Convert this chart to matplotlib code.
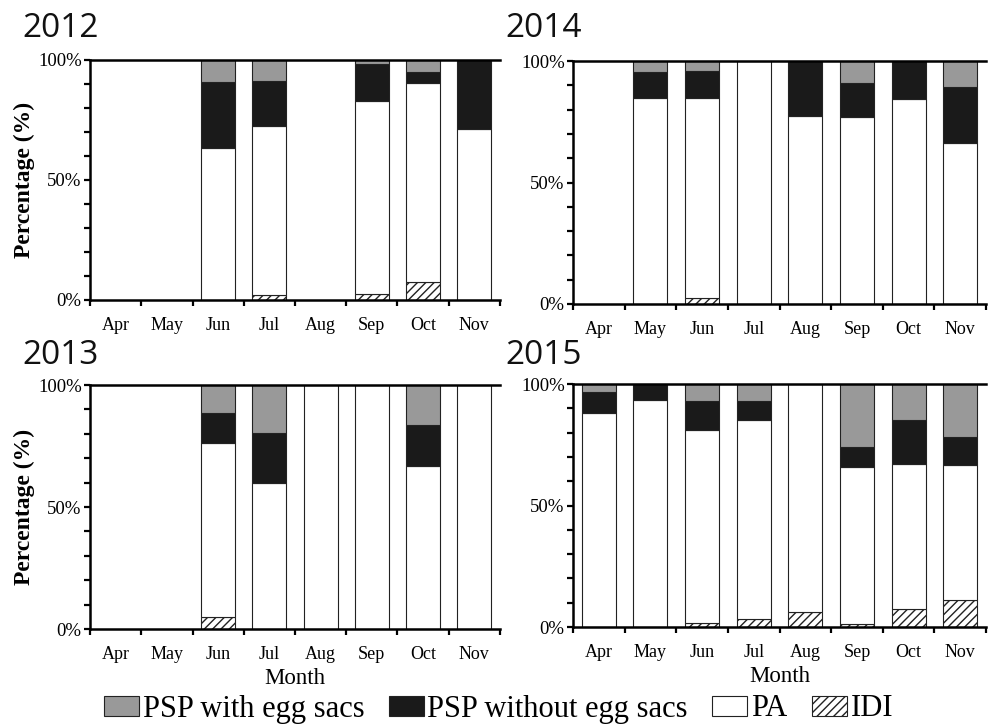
import numpy as np
import matplotlib
matplotlib.use('Agg')
import matplotlib.pyplot as plt
from matplotlib.patches import Patch

plt.rcParams['font.family'] = 'Liberation Serif'
plt.rcParams['hatch.linewidth'] = 1.0

months = ['Apr', 'May', 'Jun', 'Jul', 'Aug', 'Sep', 'Oct', 'Nov']

# percentages per month
idi_2012 = [0, 0, 0, 2.1, 0, 2.4, 7.6, 0]
pa_2012 = [0, 0, 63.2, 70.4, 0, 80.7, 82.9, 71.4]
no_egg_2012 = [0, 0, 27.5, 18.9, 0, 15.4, 4.3, 28.6]
egg_2012 = [0, 0, 9.3, 8.6, 0, 1.5, 5.2, 0]

idi_2013 = [0, 0, 4.8, 0, 0, 0, 0, 0]
pa_2013 = [0, 0, 71.4, 59.9, 100, 100, 66.7, 100]
no_egg_2013 = [0, 0, 12.4, 20.6, 0, 0, 17.1, 0]
egg_2013 = [0, 0, 11.4, 19.5, 0, 0, 16.2, 0]

idi_2014 = [0, 0, 2.6, 0, 0, 0, 0, 0]
pa_2014 = [0, 84.8, 82.2, 100, 77.5, 77.1, 84.4, 66.4]
no_egg_2014 = [0, 10.7, 11.0, 0, 22.5, 13.7, 15.6, 22.9]
egg_2014 = [0, 4.5, 4.2, 0, 0, 9.2, 0, 10.7]

idi_2015 = [0, 0, 1.5, 3.2, 6.3, 1.1, 7.3, 11.0]
pa_2015 = [88.2, 93.5, 79.5, 82.0, 93.7, 64.8, 59.9, 55.5]
no_egg_2015 = [8.4, 6.5, 12.1, 7.8, 0, 8.0, 18.1, 11.5]
egg_2015 = [3.4, 0, 6.9, 7.0, 0, 26.1, 14.7, 22.0]

labels = ['IDI', 'PA', 'PSP without egg sacs', 'PSP with egg sacs']
styles = [
    dict(facecolor='white', edgecolor='#222222', hatch='////'),
    dict(facecolor='white', edgecolor='#222222'),
    dict(facecolor='#1a1a1a', edgecolor='#222222'),
    dict(facecolor='#999999', edgecolor='#222222'),
]

W, H = 994, 727


def px_rect(l, t, r, b):
    # pixel box -> figure fraction
    return [l / W, 1 - b / H, (r - l) / W, (b - t) / H]


def draw_panel(ax, layers, left_col, bottom_row):
    x = np.arange(len(months))
    bottom = np.zeros(len(months))
    for vals, style in zip(layers, styles):
        vals = np.array(vals, dtype=float)
        keep = vals > 0
        ax.bar(x[keep], vals[keep], width=0.66, bottom=bottom[keep],
               linewidth=0.8, **style)
        bottom += vals

    ax.set_xlim(-0.5, len(months) - 0.5)
    ax.set_ylim(0, 100)
    ax.spines['right'].set_visible(False)
    for side in ['left', 'top', 'bottom']:
        ax.spines[side].set_linewidth(1.8)

    # month names centred, tick marks between bars
    ax.set_xticks(x)
    ax.set_xticklabels(months, fontsize=13)
    ax.set_xticks(np.arange(len(months) + 1) - 0.5, minor=True)
    ax.tick_params(axis='x', which='major', length=0, pad=12)
    ax.tick_params(axis='x', which='minor', length=4, width=1.6,
                   direction='out')

    ax.set_yticks(np.arange(0, 101, 10))
    ax.set_yticklabels(['0%' if v == 0 else '50%' if v == 50 else
                        '100%' if v == 100 else '' for v in range(0, 101, 10)],
                       fontsize=13.5)
    ax.tick_params(axis='y', length=4, width=1.6, pad=2)

    if left_col:
        ax.set_ylabel('Percentage (%)', fontsize=17, fontweight='bold',
                      labelpad=2)
    if bottom_row:
        ax.set_xlabel('Month', fontsize=16.5, labelpad=4)


fig = plt.figure(figsize=(W / 100, H / 100), dpi=100)

panels = [
    ('2012', [idi_2012, pa_2012, no_egg_2012, egg_2012], (90, 60, 500, 300), True, False),
    ('2014', [idi_2014, pa_2014, no_egg_2014, egg_2014], (573, 61, 986, 304), False, False),
    ('2013', [idi_2013, pa_2013, no_egg_2013, egg_2013], (90, 385, 500, 629), True, True),
    ('2015', [idi_2015, pa_2015, no_egg_2015, egg_2015], (573, 384, 986, 627), False, True),
]

for year, layers, box, left_col, bottom_row in panels:
    ax = fig.add_axes(px_rect(*box))
    draw_panel(ax, layers, left_col, bottom_row)
    tx = 22 if box[0] < 300 else 505
    ty = 37 if box[1] < 200 else 364
    fig.text(tx / W, 1 - ty / H, year, family='Open Sans', fontsize=24,
             va='baseline', ha='left', color='#111111')

handles = [Patch(linewidth=0.8, **s) for s in styles][::-1]
fig.legend(handles, labels[::-1], loc='center', ncol=4,
           bbox_to_anchor=(498.5 / W, 1 - 709 / H), frameon=False,
           fontsize=22, handlelength=1.15, handleheight=0.62,
           handletextpad=0.12, columnspacing=0.8, borderaxespad=0,
           borderpad=0)

fig.savefig('out.png', dpi=100)
